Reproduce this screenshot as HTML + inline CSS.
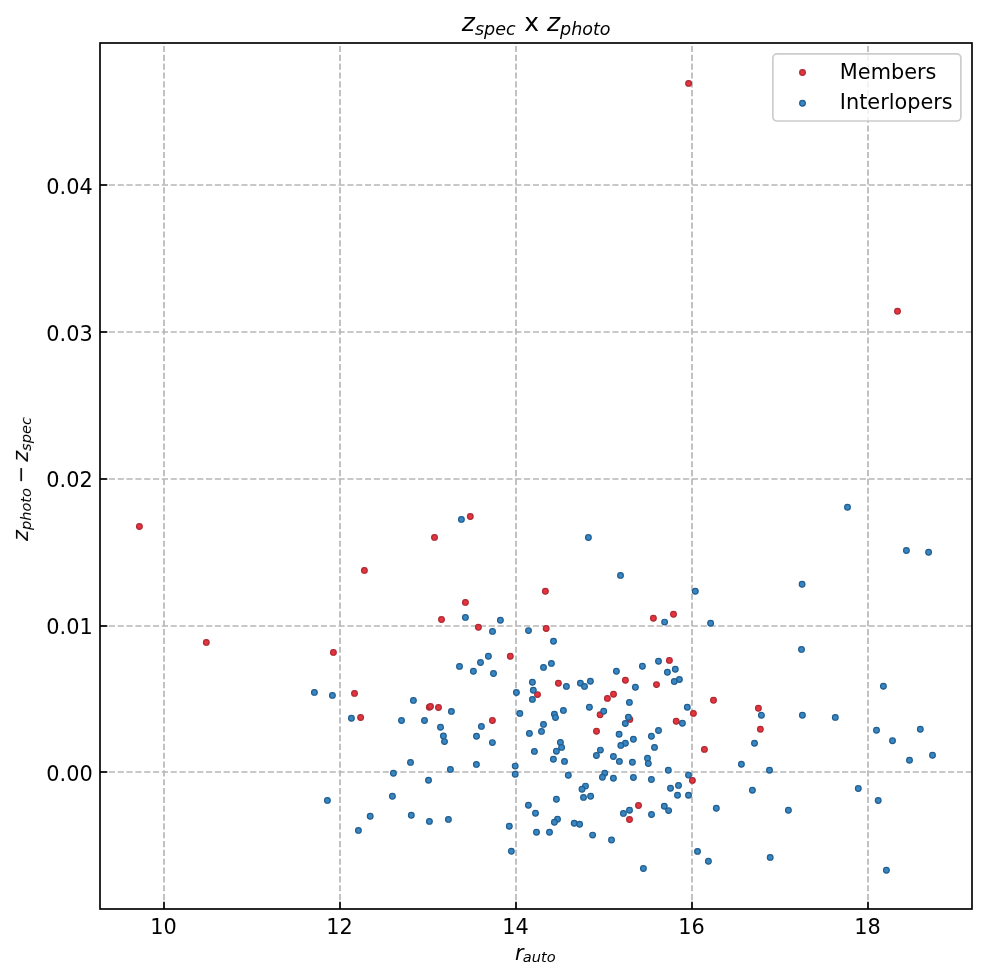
<!DOCTYPE html>
<html><head><meta charset="utf-8"><title>z_spec x z_photo</title>
<style>
html,body{margin:0;padding:0;background:#fff;}
svg{display:block;}
text{font-family:"DejaVu Sans","Liberation Sans",sans-serif;fill:#000;will-change:transform;}
.m{font-style:oblique;}
</style></head><body>
<svg width="986" height="980" viewBox="0 0 986 980">
<rect x="0" y="0" width="986" height="980" fill="#fff"/>
<g fill="none" stroke="#b6b6b6" stroke-width="1.667" stroke-dasharray="6.167 2.667">
<path d="M164 909V43"/>
<path d="M340 909V43"/>
<path d="M516 909V43"/>
<path d="M692 909V43"/>
<path d="M868 909V43"/>
<path d="M100 772H972"/>
<path d="M100 626H972"/>
<path d="M100 479H972"/>
<path d="M100 332H972"/>
<path d="M100 185H972"/>
</g>
<g fill="#e5343e" fill-opacity="1" stroke="#ac2a34" stroke-opacity="1" stroke-width="1.2">
<circle cx="688.6" cy="83.4" r="2.85"/>
<circle cx="897.5" cy="311.25" r="2.85"/>
<circle cx="139.4" cy="526.5" r="2.85"/>
<circle cx="206.3" cy="642.4" r="2.85"/>
<circle cx="364.4" cy="570.4" r="2.85"/>
<circle cx="434.5" cy="537.4" r="2.85"/>
<circle cx="470.3" cy="516.5" r="2.85"/>
<circle cx="545.4" cy="591.3" r="2.85"/>
<circle cx="465.4" cy="602.4" r="2.85"/>
<circle cx="441.5" cy="619.5" r="2.85"/>
<circle cx="478.4" cy="627.3" r="2.85"/>
<circle cx="546.2" cy="628.5" r="2.85"/>
<circle cx="653.4" cy="618.3" r="2.85"/>
<circle cx="673.5" cy="614.3" r="2.85"/>
<circle cx="333.4" cy="652.4" r="2.85"/>
<circle cx="354.5" cy="693.4" r="2.85"/>
<circle cx="360.6" cy="717.5" r="2.85"/>
<circle cx="429.3" cy="707.3" r="2.85"/>
<circle cx="430.5" cy="706.5" r="2.85"/>
<circle cx="438.5" cy="707.5" r="2.85"/>
<circle cx="510.3" cy="656.3" r="2.85"/>
<circle cx="492.4" cy="720.5" r="2.85"/>
<circle cx="537.5" cy="694.6" r="2.85"/>
<circle cx="558.4" cy="683.3" r="2.85"/>
<circle cx="607.4" cy="698.4" r="2.85"/>
<circle cx="613.5" cy="694.3" r="2.85"/>
<circle cx="600.1" cy="714.7" r="2.85"/>
<circle cx="596.5" cy="731.3" r="2.85"/>
<circle cx="669.4" cy="660.4" r="2.85"/>
<circle cx="625.4" cy="680.3" r="2.85"/>
<circle cx="656.5" cy="684.6" r="2.85"/>
<circle cx="693.4" cy="713.4" r="2.85"/>
<circle cx="676.2" cy="721.3" r="2.85"/>
<circle cx="629.8" cy="719.4" r="2.85"/>
<circle cx="713.5" cy="700.2" r="2.85"/>
<circle cx="758.4" cy="708.3" r="2.85"/>
<circle cx="760.4" cy="729.2" r="2.85"/>
<circle cx="704.4" cy="749.4" r="2.85"/>
<circle cx="692.4" cy="780.4" r="2.85"/>
<circle cx="638.5" cy="805.5" r="2.85"/>
<circle cx="629.5" cy="819.5" r="2.85"/>
</g>
<g fill="#3887c2" fill-opacity="1" stroke="#215d8f" stroke-opacity="1" stroke-width="1.2">
<circle cx="461.4" cy="519.4" r="2.85"/>
<circle cx="500.4" cy="620.3" r="2.85"/>
<circle cx="465.4" cy="617.4" r="2.85"/>
<circle cx="492.5" cy="631.4" r="2.85"/>
<circle cx="528.5" cy="630.6" r="2.85"/>
<circle cx="588.4" cy="537.5" r="2.85"/>
<circle cx="620.5" cy="575.4" r="2.85"/>
<circle cx="664.6" cy="622.1" r="2.85"/>
<circle cx="553.5" cy="641.2" r="2.85"/>
<circle cx="695.3" cy="591.3" r="2.85"/>
<circle cx="710.6" cy="623.2" r="2.85"/>
<circle cx="802.1" cy="584.3" r="2.85"/>
<circle cx="847.5" cy="507.3" r="2.85"/>
<circle cx="906.4" cy="550.5" r="2.85"/>
<circle cx="928.6" cy="552.3" r="2.85"/>
<circle cx="314.4" cy="692.4" r="2.85"/>
<circle cx="332.4" cy="695.4" r="2.85"/>
<circle cx="351.4" cy="718.3" r="2.85"/>
<circle cx="401.5" cy="720.5" r="2.85"/>
<circle cx="488.4" cy="656.3" r="2.85"/>
<circle cx="480.5" cy="662.5" r="2.85"/>
<circle cx="459.5" cy="666.4" r="2.85"/>
<circle cx="473.4" cy="671.3" r="2.85"/>
<circle cx="493.5" cy="673.5" r="2.85"/>
<circle cx="532.4" cy="682.3" r="2.85"/>
<circle cx="533.3" cy="690.2" r="2.85"/>
<circle cx="532.4" cy="699.4" r="2.85"/>
<circle cx="516.4" cy="692.5" r="2.85"/>
<circle cx="413.4" cy="700.4" r="2.85"/>
<circle cx="451.4" cy="711.4" r="2.85"/>
<circle cx="424.5" cy="720.5" r="2.85"/>
<circle cx="519.8" cy="713.4" r="2.85"/>
<circle cx="440.5" cy="727.3" r="2.85"/>
<circle cx="481.4" cy="726.4" r="2.85"/>
<circle cx="443.4" cy="735.9" r="2.85"/>
<circle cx="444.5" cy="741.6" r="2.85"/>
<circle cx="476.5" cy="736.2" r="2.85"/>
<circle cx="492.4" cy="742.6" r="2.85"/>
<circle cx="529.4" cy="733.4" r="2.85"/>
<circle cx="541.5" cy="731.4" r="2.85"/>
<circle cx="534.4" cy="751.4" r="2.85"/>
<circle cx="410.5" cy="762.4" r="2.85"/>
<circle cx="476.4" cy="764.4" r="2.85"/>
<circle cx="450.4" cy="769.4" r="2.85"/>
<circle cx="393.4" cy="773.3" r="2.85"/>
<circle cx="515.2" cy="766.1" r="2.85"/>
<circle cx="515.2" cy="774.2" r="2.85"/>
<circle cx="428.5" cy="780.2" r="2.85"/>
<circle cx="543.5" cy="724.4" r="2.85"/>
<circle cx="551.4" cy="663.4" r="2.85"/>
<circle cx="543.5" cy="667.4" r="2.85"/>
<circle cx="616.4" cy="671.3" r="2.85"/>
<circle cx="566.4" cy="686.4" r="2.85"/>
<circle cx="580.4" cy="683.2" r="2.85"/>
<circle cx="584.5" cy="686.4" r="2.85"/>
<circle cx="590.4" cy="681.3" r="2.85"/>
<circle cx="589.4" cy="707.3" r="2.85"/>
<circle cx="603.7" cy="711.3" r="2.85"/>
<circle cx="563.4" cy="710.4" r="2.85"/>
<circle cx="554.4" cy="714.2" r="2.85"/>
<circle cx="555.5" cy="717.6" r="2.85"/>
<circle cx="658.5" cy="661.3" r="2.85"/>
<circle cx="642.4" cy="666.3" r="2.85"/>
<circle cx="675.3" cy="669.3" r="2.85"/>
<circle cx="667.4" cy="672.3" r="2.85"/>
<circle cx="679.4" cy="679.5" r="2.85"/>
<circle cx="674.3" cy="681.5" r="2.85"/>
<circle cx="635.4" cy="687.3" r="2.85"/>
<circle cx="629.4" cy="702.4" r="2.85"/>
<circle cx="687.3" cy="707.2" r="2.85"/>
<circle cx="682.4" cy="723.3" r="2.85"/>
<circle cx="628.4" cy="717.2" r="2.85"/>
<circle cx="625.3" cy="723.5" r="2.85"/>
<circle cx="658.5" cy="730.5" r="2.85"/>
<circle cx="801.5" cy="649.4" r="2.85"/>
<circle cx="761.4" cy="715.3" r="2.85"/>
<circle cx="802.4" cy="715.2" r="2.85"/>
<circle cx="883.4" cy="686.3" r="2.85"/>
<circle cx="835.3" cy="717.4" r="2.85"/>
<circle cx="876.5" cy="730.2" r="2.85"/>
<circle cx="920.3" cy="729.3" r="2.85"/>
<circle cx="892.5" cy="740.7" r="2.85"/>
<circle cx="932.5" cy="755.3" r="2.85"/>
<circle cx="909.5" cy="760.3" r="2.85"/>
<circle cx="858.3" cy="788.5" r="2.85"/>
<circle cx="878.2" cy="800.5" r="2.85"/>
<circle cx="886.4" cy="870.3" r="2.85"/>
<circle cx="392.4" cy="796.3" r="2.85"/>
<circle cx="327.4" cy="800.4" r="2.85"/>
<circle cx="370.2" cy="816.3" r="2.85"/>
<circle cx="411.3" cy="815.3" r="2.85"/>
<circle cx="358.4" cy="830.4" r="2.85"/>
<circle cx="429.4" cy="821.4" r="2.85"/>
<circle cx="448.4" cy="819.4" r="2.85"/>
<circle cx="509.3" cy="826.3" r="2.85"/>
<circle cx="511.3" cy="851.3" r="2.85"/>
<circle cx="560.4" cy="742.4" r="2.85"/>
<circle cx="561.6" cy="747.4" r="2.85"/>
<circle cx="556.4" cy="751.3" r="2.85"/>
<circle cx="553.4" cy="759.2" r="2.85"/>
<circle cx="564.5" cy="761.4" r="2.85"/>
<circle cx="600.4" cy="750.1" r="2.85"/>
<circle cx="596.4" cy="755.5" r="2.85"/>
<circle cx="613.4" cy="756.5" r="2.85"/>
<circle cx="619.4" cy="761.4" r="2.85"/>
<circle cx="619.1" cy="734.2" r="2.85"/>
<circle cx="568.3" cy="775.3" r="2.85"/>
<circle cx="604.7" cy="773.2" r="2.85"/>
<circle cx="602.4" cy="777.3" r="2.85"/>
<circle cx="613.4" cy="778.2" r="2.85"/>
<circle cx="585.5" cy="786.1" r="2.85"/>
<circle cx="582.0" cy="789.3" r="2.85"/>
<circle cx="583.5" cy="797.4" r="2.85"/>
<circle cx="590.6" cy="796.3" r="2.85"/>
<circle cx="556.4" cy="799.3" r="2.85"/>
<circle cx="528.4" cy="805.3" r="2.85"/>
<circle cx="535.5" cy="813.3" r="2.85"/>
<circle cx="557.5" cy="819.2" r="2.85"/>
<circle cx="554.4" cy="822.3" r="2.85"/>
<circle cx="574.2" cy="823.3" r="2.85"/>
<circle cx="579.6" cy="824.3" r="2.85"/>
<circle cx="536.5" cy="832.2" r="2.85"/>
<circle cx="549.5" cy="832.2" r="2.85"/>
<circle cx="592.6" cy="835.1" r="2.85"/>
<circle cx="611.5" cy="840.0" r="2.85"/>
<circle cx="633.4" cy="739.2" r="2.85"/>
<circle cx="625.4" cy="743.3" r="2.85"/>
<circle cx="620.8" cy="745.4" r="2.85"/>
<circle cx="651.4" cy="736.3" r="2.85"/>
<circle cx="654.5" cy="747.4" r="2.85"/>
<circle cx="632.4" cy="762.2" r="2.85"/>
<circle cx="647.5" cy="758.3" r="2.85"/>
<circle cx="648.3" cy="763.5" r="2.85"/>
<circle cx="668.3" cy="770.2" r="2.85"/>
<circle cx="633.4" cy="777.5" r="2.85"/>
<circle cx="651.4" cy="779.5" r="2.85"/>
<circle cx="688.5" cy="775.1" r="2.85"/>
<circle cx="678.5" cy="785.4" r="2.85"/>
<circle cx="670.5" cy="788.3" r="2.85"/>
<circle cx="677.5" cy="795.2" r="2.85"/>
<circle cx="688.5" cy="795.2" r="2.85"/>
<circle cx="629.5" cy="810.3" r="2.85"/>
<circle cx="623.4" cy="813.4" r="2.85"/>
<circle cx="651.5" cy="814.5" r="2.85"/>
<circle cx="664.3" cy="806.3" r="2.85"/>
<circle cx="668.6" cy="810.6" r="2.85"/>
<circle cx="716.3" cy="808.3" r="2.85"/>
<circle cx="697.5" cy="851.4" r="2.85"/>
<circle cx="708.4" cy="861.3" r="2.85"/>
<circle cx="643.4" cy="868.5" r="2.85"/>
<circle cx="754.5" cy="743.3" r="2.85"/>
<circle cx="741.4" cy="764.3" r="2.85"/>
<circle cx="769.5" cy="770.2" r="2.85"/>
<circle cx="752.4" cy="790.3" r="2.85"/>
<circle cx="788.4" cy="810.3" r="2.85"/>
<circle cx="770.2" cy="857.4" r="2.85"/>
</g>
<g stroke="#000" stroke-width="1.667" fill="none">
<path d="M164 909v-7.292"/>
<path d="M340 909v-7.292"/>
<path d="M516 909v-7.292"/>
<path d="M692 909v-7.292"/>
<path d="M868 909v-7.292"/>
<path d="M100 772h7.292"/>
<path d="M100 626h7.292"/>
<path d="M100 479h7.292"/>
<path d="M100 332h7.292"/>
<path d="M100 185h7.292"/>
</g>
<rect x="100" y="43" width="872" height="866" fill="none" stroke="#000" stroke-width="1.667" stroke-linejoin="miter"/>
<text x="163.5" y="933.92" font-size="20.833" text-anchor="middle">10</text>
<text x="339.5" y="933.92" font-size="20.833" text-anchor="middle">12</text>
<text x="515.5" y="933.92" font-size="20.833" text-anchor="middle">14</text>
<text x="691.5" y="933.92" font-size="20.833" text-anchor="middle">16</text>
<text x="867.5" y="933.92" font-size="20.833" text-anchor="middle">18</text>
<text x="92.71" y="780.97" font-size="20.833" text-anchor="end">0.00</text>
<text x="92.71" y="634.22" font-size="20.833" text-anchor="end">0.01</text>
<text x="92.71" y="487.47" font-size="20.833" text-anchor="end">0.02</text>
<text x="92.71" y="340.72" font-size="20.833" text-anchor="end">0.03</text>
<text x="92.71" y="193.97" font-size="20.833" text-anchor="end">0.04</text>
<g transform="translate(514.96 960.62)"><text class="m" x="0" y="-0.846" font-size="20.833">r</text><text class="m" x="7.815" y="1.572" font-size="14.583">a</text><text class="m" x="16.752" y="1.572" font-size="14.583">u</text><text class="m" x="25.995" y="1.572" font-size="14.583">t</text><text class="m" x="31.713" y="1.572" font-size="14.583">o</text></g>
<g transform="translate(28.93 540.99) rotate(-90)"><text class="m" x="0" y="-1.107" font-size="20.833">z</text><text class="m" x="10.935" y="1.511" font-size="14.583">p</text><text class="m" x="20.192" y="1.511" font-size="14.583">h</text><text class="m" x="29.435" y="1.511" font-size="14.583">o</text><text class="m" x="38.358" y="1.511" font-size="14.583">t</text><text class="m" x="44.076" y="1.511" font-size="14.583">o</text><text x="57.626" y="-1.107" font-size="20.833">&#8722;</text><text class="m" x="79.141" y="-1.107" font-size="20.833">z</text><text class="m" x="90.077" y="1.511" font-size="14.583">s</text><text class="m" x="97.675" y="1.511" font-size="14.583">p</text><text class="m" x="106.932" y="1.511" font-size="14.583">e</text><text class="m" x="115.904" y="1.511" font-size="14.583">c</text></g>
<g transform="translate(461.85 31.50)"><text class="m" x="0" y="-0.911" font-size="25.000">z</text><text class="m" x="13.123" y="3.190" font-size="17.500">s</text><text class="m" x="22.240" y="3.190" font-size="17.500">p</text><text class="m" x="33.348" y="3.190" font-size="17.500">e</text><text class="m" x="44.115" y="3.190" font-size="17.500">c</text><text x="62.367" y="-0.911" font-size="25.000">x</text><text class="m" x="85.109" y="-0.911" font-size="25.000">z</text><text class="m" x="98.231" y="3.190" font-size="17.500">p</text><text class="m" x="109.340" y="3.190" font-size="17.500">h</text><text class="m" x="120.431" y="3.190" font-size="17.500">o</text><text class="m" x="131.138" y="3.190" font-size="17.500">t</text><text class="m" x="137.999" y="3.190" font-size="17.500">o</text></g>
<rect x="772.89" y="53.92" width="188.00" height="67.11" rx="4.17" ry="4.17" fill="#fff" fill-opacity="0.8" stroke="#cccccc" stroke-width="1.667"/>
<g fill="#e5343e" fill-opacity="1" stroke="#ac2a34" stroke-opacity="1" stroke-width="1.2">
<circle cx="802.5" cy="72.5" r="2.85"/>
</g>
<g fill="#3887c2" fill-opacity="1" stroke="#215d8f" stroke-opacity="1" stroke-width="1.2">
<circle cx="802.5" cy="103.3" r="2.85"/>
</g>
<text x="839.85" y="79.00" font-size="20.833">Members</text>
<text x="839.85" y="109.00" font-size="20.833">Interlopers</text>
</svg>
</body></html>
